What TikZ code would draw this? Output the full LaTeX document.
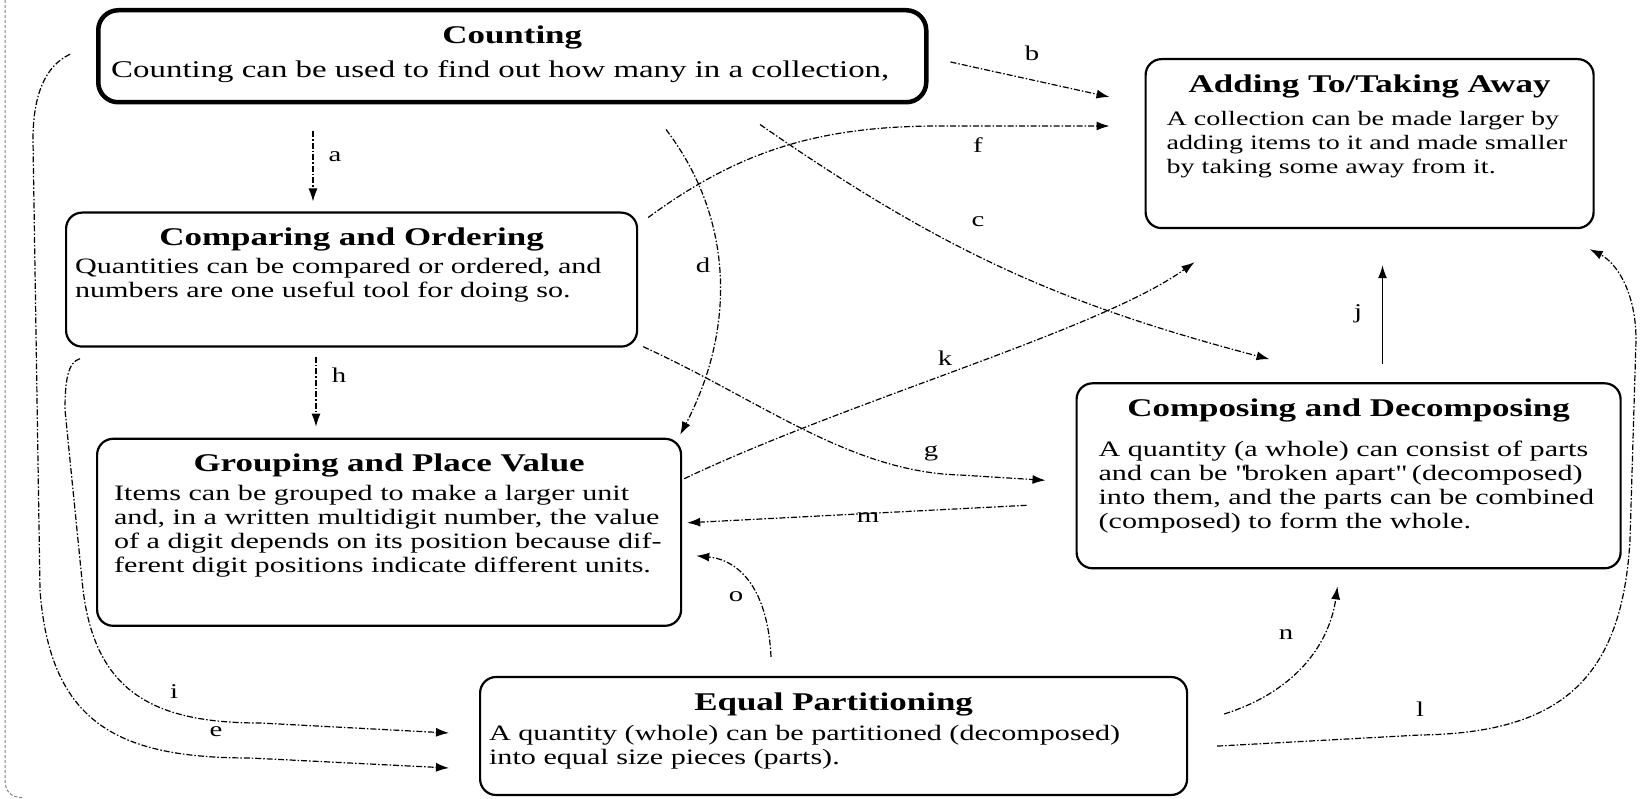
\documentclass[tikz,border=0pt]{standalone}
\usepackage{fontspec}
\setmainfont{Liberation Serif}[FakeStretch=1.37]
\usetikzlibrary{
  arrows.meta, % for the Latex arrow tip
  calc, % to offset the connector ends from the boxes
  positioning, % for relative positioning of the boxes
}
\newcommand{\titlefont}{\fontsize{25.5}{28}\selectfont\bfseries}
\newcommand{\bodyfont}{\normalfont\fontsize{22}{24}\selectfont}
% width, height, indent, gap, title, text
\newcommand{\concept}[6]{%
  \parbox[t][#2][t]{#1}{\centering\titlefont\rule{0pt}{33pt}#5\par
    \vspace{#4}\raggedright\leftskip=#3\rightskip=-40pt plus 1fil\bodyfont #6\par}}
\tikzset{
  concept/.style={ % style for each idea box
    draw,line width=2.2pt, % drawn with a heavy outline
    rounded corners=16pt, % rounded box
    inner sep=0pt, % size comes from the parbox only
    anchor=north west,
  },
  mainconcept/.style={ % the starting box
    concept,
    line width=4.5pt, % much heavier outline
    rounded corners=20pt,
  },
  conn/.style={ % style for the connections
    -{Latex[length=13pt,width=9pt]},
    line width=1.2pt,
    dash pattern=on 6pt off 2pt on 1.5pt off 2pt, % broken line
  },
  lbl/.style={ % letters on the connections
    font=\fontsize{21}{21}\selectfont,
    inner sep=0pt,
  },
  frame/.style={ % left edge of the sheet
    gray,line width=1pt,densely dashed,
  },
}
\begin{document}
\begin{tikzpicture}[x=1pt,y=-1pt]
  \useasboundingbox (0,0) rectangle (1650,799);
  \draw[frame] (5,0) -- (5,778) .. controls (5,792) and (10,797) .. (24,798);

  \node[mainconcept] (counting) at (96,8)
  {\concept{828pt}{92pt}{13pt}{8pt}{Counting}
    {\fontsize{24}{26}\selectfont Counting can be used to find out how many in a collection,}};
  \node[concept,below=107pt of counting.south west,anchor=north west,xshift=-31pt] (comparing)
  {\concept{571pt}{134pt}{9pt}{4pt}{Comparing and Ordering}
    {Quantities can be compared or ordered, and\\numbers are one useful tool for doing so.}};
  \node[concept,below=90pt of comparing.south west,anchor=north west,xshift=31pt] (grouping)
  {\concept{584pt}{187pt}{17pt}{5pt}{Grouping and Place Value}
    {Items can be grouped to make a larger unit\\and, in a written multidigit number, the value\\of a digit depends on its position because dif-\\ferent digit positions indicate different units.}};
  \node[concept,below=49pt of grouping.south west,anchor=north west,xshift=383pt] (equal)
  {\concept{707pt}{118pt}{9pt}{6pt}{Equal Partitioning}
    {A quantity (whole) can be partitioned (decomposed)\\into equal size pieces (parts).}};
  \node[concept,right=216pt of counting.north east,anchor=north west,yshift=-50pt] (adding)
  {\concept{448pt}{169pt}{21pt}{9pt}{Adding To/Taking Away}
    {\fontsize{20.5}{24}\selectfont A collection can be made larger by\\adding items to it and made smaller\\by taking some away from it.}};
  \node[concept,below=153pt of adding.south west,anchor=north west,xshift=-69pt] (composing)
  {\concept{544pt}{185pt}{22pt}{16pt}{Composing and Decomposing}
    {A quantity (a whole) can consist of parts\\and can be \textquotedbl broken apart\textquotedbl\ (decomposed)\\into them, and the parts can be combined\\(composed) to form the whole.}};

  \draw[conn] ($(counting.south west)+(217,27)$) -- ($(comparing.north west)+(248,-10)$);
  \draw[conn] ($(counting.north east)+(22,54)$) -- ($(adding.north west)+(-35,39)$);
  \draw[conn] ($(counting.south west)+(664,20)$) to[bend right=10] ($(composing.north west)+(194,-23)$);
  \draw[conn] ($(counting.south west)+(570,25)$) .. controls (735,220) and (735,330) .. ($(grouping.north east)+(-2,-3)$);
  \draw[conn] ($(counting.west)+(-26,-2)$) .. controls (45,66) and (33,95) .. (33,140)
    -- (40,590) .. controls (50,725) and (120,758) .. (250,758) -- ($(equal.west)+(-30,32)$);
  \draw[conn] ($(comparing.north east)+(10,6)$) .. controls (740,150) and (820,126) .. (940,126)
    -- ($(adding.north west)+(-35,68)$);
  \draw[conn] ($(comparing.south east)+(5,-1)$) .. controls (760,400) and (850,472) .. (960,475)
    -- ($(composing.west)+(-30,4.5)$);
  \draw[conn] ($(comparing.south west)+(251,9)$) -- ($(grouping.north west)+(220,-11)$);
  \draw[conn] ($(comparing.south west)+(15,11)$) .. controls (68,362) and (65,380) .. (65,410)
    -- (82,580) .. controls (92,690) and (150,723) .. (260,723) -- ($(equal.west)+(-30,-3)$);
  \draw[conn,solid] ($(composing.north west)+(307,-18)$) -- ($(adding.south west)+(238,36)$);
  \draw[conn] ($(grouping.north east)+(2,41)$) .. controls (850,400) and (1100,330) .. ($(adding.south west)+(50,33)$);
  \draw[conn] ($(equal.south east)+(29,-50)$) -- (1420,735) .. controls (1560,733) and (1622,680) .. (1630,540)
    -- (1636,340) .. controls (1636,290) and (1615,262) .. ($(adding.south east)+(-5,20)$);
  \draw[conn] ($(composing.west)+(-49,29.5)$) -- ($(grouping.east)+(5,-9.5)$);
  \draw[conn] ($(equal.east)+(36,-22)$) .. controls (1300,690) and (1330,640) .. ($(composing.south west)+(262,17)$);
  \draw[conn] ($(equal.north west)+(292,-19)$) .. controls (768,590) and (740,560) .. ($(grouping.east)+(14,23.5)$);

  \node[lbl] (la) at (335,157) {a};
  \node[lbl] (lb) at (1032,53) {b};
  \node[lbl] (lc) at (978,222) {c};
  \node[lbl] (ld) at (703,265) {d};
  \node[lbl] (le) at (216,732) {e};
  \node[lbl] (lf) at (978,145) {f};
  \node[lbl] (lg) at (931,453) {g};
  \node[lbl] (lh) at (339,375) {h};
  \node[lbl] (li) at (174,692) {i};
  \node[lbl] (lj) at (1358,314) {j};
  \node[lbl] (lk) at (945,358) {k};
  \node[lbl] (ll) at (1420,709) {l};
  \node[lbl] (lm) at (868,518) {m};
  \node[lbl] (ln) at (1286,635) {n};
  \node[lbl] (lo) at (736,597) {o};
\end{tikzpicture}
\end{document}
